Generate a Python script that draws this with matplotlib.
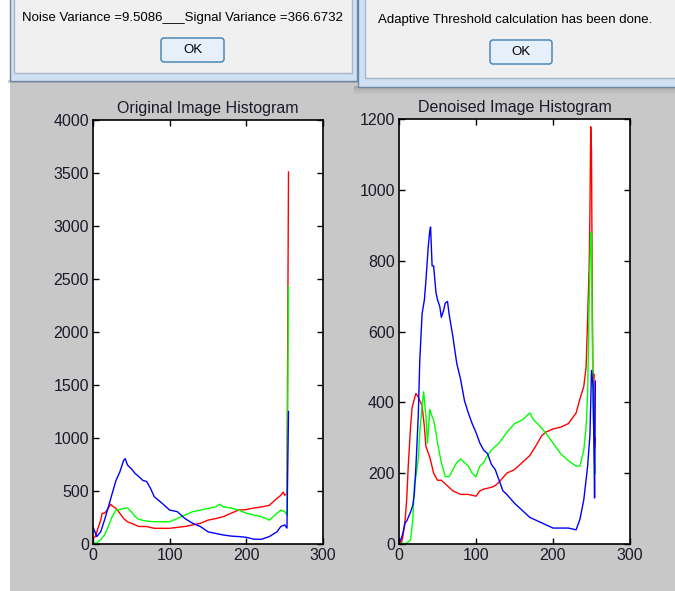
import matplotlib.pyplot as plt
from matplotlib.patches import Rectangle, FancyBboxPatch
import numpy as np

# ---- data (gray level vs pixel count) ----
# original image histogram
orig_red_x = [0, 3, 5, 10, 12, 15, 20, 23, 25, 30, 35, 40, 45, 50, 55, 60, 70, 80, 90, 100,
              110, 120, 130, 140, 150, 160, 170, 180, 190, 200, 210, 220, 230, 240, 245, 248,
              250, 253, 254, 255]
orig_red = [55, 70, 115, 225, 290, 290, 335, 375, 360, 335, 290, 240, 210, 195, 180, 165, 165,
            148, 148, 148, 157, 165, 180, 195, 225, 240, 258, 290, 320, 325, 340, 350, 365, 430,
            460, 490, 460, 475, 2000, 3510]
orig_green_x = [0, 5, 10, 15, 20, 25, 30, 35, 40, 45, 50, 55, 60, 70, 80, 90, 100, 110, 120,
                130, 140, 150, 160, 165, 170, 180, 190, 200, 210, 220, 230, 240, 245, 250, 253,
                254, 255]
orig_green = [5, 12, 40, 85, 165, 258, 320, 325, 335, 340, 305, 258, 232, 215, 210, 210, 210,
              240, 273, 305, 320, 335, 350, 375, 350, 340, 320, 290, 273, 258, 225, 290, 320,
              305, 273, 1350, 2430]
orig_blue_x = [0, 5, 10, 15, 20, 25, 30, 35, 40, 42, 45, 50, 55, 60, 65, 70, 75, 80, 90, 100,
               110, 120, 130, 140, 150, 160, 170, 180, 190, 200, 210, 220, 230, 240, 245, 250,
               253, 254, 255]
orig_blue = [160, 70, 115, 225, 350, 475, 600, 680, 790, 805, 745, 710, 665, 635, 600, 590, 525,
             445, 385, 320, 305, 240, 195, 165, 115, 100, 85, 75, 70, 63, 45, 45, 70, 115, 165,
             180, 150, 720, 1250]

# denoised image histogram
den_red_x = [0, 3, 5, 8, 10, 12, 15, 17, 20, 22, 25, 28, 30, 33, 35, 40, 45, 50, 55, 60, 70, 80,
             90, 100, 105, 110, 120, 125, 130, 140, 150, 160, 170, 180, 185, 190, 200, 210, 220,
             230, 235, 240, 243, 245, 247, 248, 249, 250, 251, 252, 253, 254, 255]
den_red = [10, 2, 20, 70, 125, 220, 330, 385, 410, 425, 415, 400, 390, 330, 275, 245, 200, 180,
           180, 170, 150, 140, 140, 135, 150, 155, 160, 165, 175, 200, 210, 230, 250, 285, 305,
           315, 325, 330, 340, 370, 410, 445, 500, 640, 785, 945, 1178, 1110, 700, 450, 480,
           270, 300]
den_green_x = [0, 5, 10, 15, 18, 20, 22, 25, 27, 30, 32, 35, 37, 40, 43, 45, 48, 50, 55, 60, 65,
               70, 75, 80, 85, 90, 95, 100, 105, 110, 115, 120, 125, 130, 140, 150, 160, 170,
               175, 180, 190, 200, 210, 220, 230, 235, 240, 243, 245, 247, 249, 250, 251, 252,
               253, 255]
den_green = [2, 2, 2, 12, 70, 170, 190, 240, 315, 390, 430, 360, 285, 380, 360, 350, 315, 285,
             230, 190, 190, 210, 230, 240, 230, 220, 200, 190, 220, 230, 250, 265, 275, 285, 315,
             340, 350, 370, 350, 340, 315, 285, 255, 235, 220, 220, 265, 330, 425, 690, 880, 870,
             600, 390, 315, 200]
den_blue_x = [0, 3, 5, 8, 10, 15, 18, 20, 22, 25, 27, 30, 33, 35, 38, 40, 41, 43, 45, 48, 50, 53,
              55, 58, 60, 63, 65, 70, 75, 80, 85, 90, 95, 100, 105, 110, 115, 120, 125, 130, 135,
              140, 150, 160, 170, 180, 190, 200, 210, 220, 230, 235, 240, 245, 248, 250, 252,
              253, 254, 255]
den_blue = [2, 16, 30, 60, 65, 90, 110, 145, 220, 360, 520, 650, 690, 745, 840, 885, 895, 785,
            785, 710, 690, 670, 640, 660, 680, 685, 650, 585, 510, 465, 405, 370, 340, 315, 285,
            265, 255, 225, 210, 180, 150, 140, 115, 95, 75, 65, 55, 45, 45, 45, 40, 70, 125, 220,
            310, 490, 445, 300, 130, 460]

W, H = 675, 591
fig = plt.figure(figsize=(W / 100, H / 100), dpi=100)
fig.patch.set_facecolor('white')

# background layer in pixel coords (y downwards)
bg = fig.add_axes([0, 0, 1, 1], zorder=-1)
bg.set_xlim(0, W)
bg.set_ylim(H, 0)
bg.axis('off')
bg.add_patch(Rectangle((10, 78), W - 10, H - 78, facecolor='#c8c8c8', edgecolor='none'))

# shadow under the right dialog
for i, a in enumerate([0.35, 0.25, 0.15, 0.08]):
    bg.add_patch(Rectangle((354, 86 + i * 2), W, 2, facecolor='#707070', alpha=a, edgecolor='none'))
bg.add_patch(Rectangle((8, 80), 352, 3, facecolor='#909090', alpha=0.4, edgecolor='none'))

msg_font = dict(fontsize=9.5, family='Liberation Sans', color='black')

# left message box
bg.add_patch(Rectangle((10, -5), 347, 86, facecolor='#cfe0f2', edgecolor='#6d87a3', lw=1))
bg.add_patch(Rectangle((14, -5), 338, 78, facecolor='#f0f0f0', edgecolor='#a7b8cb', lw=1))
bg.text(22, 18, 'Noise Variance =9.5086___Signal Variance =366.6732', va='center', ha='left',
        **msg_font)
bg.add_patch(FancyBboxPatch((161, 38), 63, 24, boxstyle='round,pad=0,rounding_size=3',
                            facecolor='#e6f0fa', edgecolor='#3c7fb1', lw=1))
bg.text(192.5, 50, 'OK', ha='center', va='center', **msg_font)

# right message box
bg.add_patch(Rectangle((358, -5), 330, 92, facecolor='#cfe0f2', edgecolor='#6d87a3', lw=1))
bg.add_patch(Rectangle((365, -5), 320, 83, facecolor='#f0f0f0', edgecolor='#a7b8cb', lw=1))
bg.text(378, 20, 'Adaptive Threshold calculation has been done.', va='center', ha='left',
        **msg_font)
bg.add_patch(FancyBboxPatch((490, 40), 62, 24, boxstyle='round,pad=0,rounding_size=3',
                            facecolor='#e6f0fa', edgecolor='#3c7fb1', lw=1))
bg.text(521, 52, 'OK', ha='center', va='center', **msg_font)


def px_axes(x0, y0, x1, y1):
    return fig.add_axes([x0 / W, (H - y1) / H, (x1 - x0) / W, (y1 - y0) / H])


def histo(ax, title, ymax, ystep, series):
    for xs, ys, c in series:
        ax.plot(xs, ys, color=c, lw=1)
    ax.set_xlim(0, 300)
    ax.set_ylim(0, ymax)
    ax.set_xticks([0, 100, 200, 300])
    ax.set_yticks(np.arange(0, ymax + 1, ystep))
    ax.tick_params(direction='in', top=True, right=True, length=4, width=1,
                   labelsize=11.5, colors='black', labelcolor='#1a1a2a', pad=3)
    for s in ax.spines.values():
        s.set_linewidth(1.2)
    ax.set_title(title, fontsize=11.5, color='#1a1a2a', pad=5, family='Liberation Sans')
    for lab in ax.get_xticklabels() + ax.get_yticklabels():
        lab.set_family('Liberation Sans')


ax1 = px_axes(93, 120, 323, 544)
histo(ax1, 'Original Image Histogram', 4000, 500,
      [(orig_red_x, orig_red, '#ff0000'),
       (orig_green_x, orig_green, '#00ff00'),
       (orig_blue_x, orig_blue, '#0000ff')])

ax2 = px_axes(399, 119, 630, 544)
histo(ax2, 'Denoised Image Histogram', 1200, 200,
      [(den_red_x, den_red, '#ff0000'),
       (den_green_x, den_green, '#00ff00'),
       (den_blue_x, den_blue, '#0000ff')])

fig.savefig('out.png', dpi=100)
